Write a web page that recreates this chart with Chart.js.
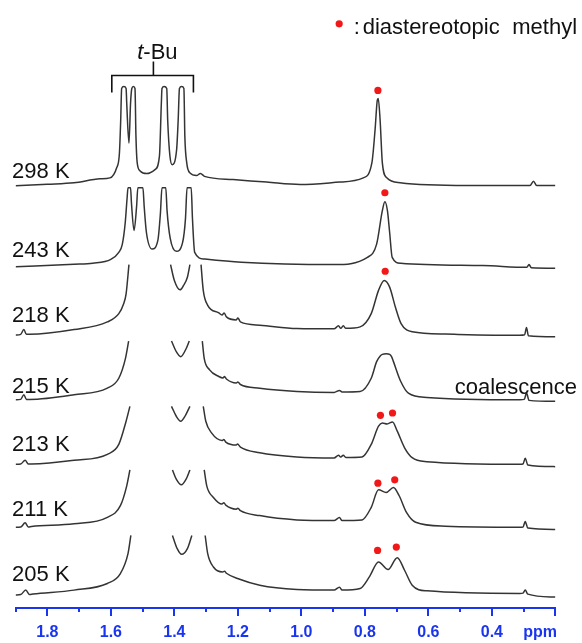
<!DOCTYPE html>
<html>
<head>
<meta charset="utf-8">
<script src="https://cdn.jsdelivr.net/npm/chart.js@4.4.1/dist/chart.umd.min.js"></script>
<style>
  html, body { margin: 0; padding: 0; background: #fff; }
  #nmr { display: block; }
</style>
</head>
<body>
<canvas id="nmr" width="582" height="643"></canvas>
<script>
// VT 1H NMR, top to bottom
const temps = ['298 K', '243 K', '218 K', '215 K', '213 K', '211 K', '205 K'];
// baseline offset of each spectrum in the stack
const offsets = [425, 342, 273, 208, 142, 79, 11];

// shift (ppm) / intensity above own baseline; null = off scale (clipped)
const ppm298 = [1.900, 1.800, 1.716, 1.634, 1.603, 1.582, 1.573, 1.569, 1.566, 1.559, 1.552, 1.550, 1.543, 1.538, 1.534, 1.529, 1.524, 1.521, 1.517, 1.508, 1.487, 1.461, 1.447, 1.441, 1.439, 1.432, 1.424, 1.421, 1.414, 1.407, 1.393, 1.388, 1.384, 1.377, 1.370, 1.367, 1.361, 1.351, 1.330, 1.318, 1.305, 1.215, 1.109, 1.004, 0.878, 0.805, 0.778, 0.768, 0.761, 0.758, 0.752, 0.745, 0.731, 0.689, 0.479, 0.280, 0.269, 0.259, 0.200];
const int298 = [0, 1.5, 3, 7, 8, 18, 33, 66, 98, 100, 98, 83, 43, 83, 98, 100, 98, 50, 23, 15, 12.3, 16.3, 30, 83, 98, 100, 98, 66, 30, 21.3, 36, 66, 98, 100, 98, 50, 23, 13, 10.3, 12.5, 9.5, 6.3, 3.7, 1.3, 3.7, 8, 23, 56, 86, 88, 66, 23, 8, 3, 0.3, 0.3, 4.7, 0.3, 0.3];

const ppm243 = [1.900, 1.716, 1.657, 1.600, 1.575, 1.564, 1.555, 1.549, 1.546, 1.538, 1.535, 1.527, 1.519, 1.515, 1.499, 1.495, 1.488, 1.470, 1.452, 1.444, 1.439, 1.427, 1.423, 1.413, 1.394, 1.374, 1.365, 1.360, 1.347, 1.343, 1.336, 1.306, 1.189, 0.897, 0.792, 0.763, 0.745, 0.737, 0.729, 0.722, 0.714, 0.687, 0.429, 0.290, 0.283, 0.276, 0.200];
const int243 = [1.5, 4, 5, 9, 16, 24, 45, 70, 81, 81, 65, 38, 62, 81, 81, 62, 36, 19.3, 28, 55, 81, 81, 58, 30, 17, 26, 50, 81, 81, 50, 16, 9.3, 6, 3.7, 11, 24.3, 58, 67, 58, 36, 11, 5, 2.7, 1, 3.7, 0.5, 0];

const ppm218 = [1.900, 1.884, 1.874, 1.866, 1.856, 1.716, 1.611, 1.575, 1.560, 1.552, 1.543, 1.480, 1.412, 1.400, 1.382, 1.371, 1.359, 1.351, 1.335, 1.316, 1.309, 1.295, 1.260, 1.250, 1.243, 1.236, 1.205, 1.200, 1.192, 1.131, 1.014, 0.897, 0.883, 0.876, 0.868, 0.860, 0.815, 0.780, 0.757, 0.739, 0.722, 0.704, 0.686, 0.651, 0.546, 0.312, 0.297, 0.291, 0.285, 0.200];
const int218 = [1.7, 2.5, 7.3, 2.5, 2.5, 7.3, 15, 23.3, 33, 43.3, 72.7, null, 72.7, 56.7, 47.3, 51.7, 60, 72.7, null, 72.7, 46.7, 31.7, 24, 22, 24, 20, 17, 19, 15, 11.7, 8.3, 8, 11, 8.5, 11, 8.5, 10, 23.3, 46.7, 56.7, 50, 30, 13.3, 5, 2.7, 1.5, 2, 9.3, 1, 0];

const ppm215 = [1.900, 1.884, 1.874, 1.866, 1.856, 1.716, 1.611, 1.575, 1.554, 1.544, 1.480, 1.409, 1.394, 1.380, 1.365, 1.353, 1.330, 1.312, 1.306, 1.289, 1.260, 1.247, 1.242, 1.236, 1.205, 1.200, 1.192, 1.131, 1.014, 0.897, 0.880, 0.872, 0.815, 0.780, 0.763, 0.751, 0.745, 0.733, 0.722, 0.716, 0.710, 0.687, 0.663, 0.605, 0.312, 0.298, 0.291, 0.283, 0.200];
const int215 = [1.7, 2, 6.7, 2, 2, 6.7, 13.3, 23.3, 43.3, 60.7, null, 60.7, 50, 45, 51.7, 60.7, null, 60.7, 43.3, 31.7, 25, 23.5, 25, 22.5, 18.5, 19.5, 17, 13.3, 10, 9, 11, 9.5, 10, 23.3, 40, 46, 47.3, 48, 47.3, 45, 40, 20, 8.3, 4, 1.7, 2, 8.3, 1, 0];

const ppm213 = [1.900, 1.884, 1.870, 1.860, 1.850, 1.716, 1.611, 1.575, 1.552, 1.540, 1.480, 1.409, 1.394, 1.380, 1.365, 1.351, 1.330, 1.309, 1.301, 1.283, 1.250, 1.244, 1.238, 1.205, 1.201, 1.192, 1.131, 1.014, 0.897, 0.883, 0.876, 0.868, 0.860, 0.809, 0.780, 0.757, 0.745, 0.730, 0.713, 0.698, 0.675, 0.651, 0.605, 0.312, 0.302, 0.295, 0.287, 0.200];
const int213 = [2.7, 3, 6.7, 3, 3, 6.7, 12.7, 22.7, 46, 61, null, 61, 51, 46, 52, 61, null, 61, 46, 34.3, 26.7, 27.5, 25, 22, 23, 20, 14.3, 10, 9, 11.7, 10, 11.7, 9.5, 10, 22.7, 41, 44.3, 43.3, 45.3, 36, 19.3, 9.3, 5.3, 2.7, 3, 8.7, 2, 0.3];

const ppm211 = [1.900, 1.884, 1.870, 1.860, 1.850, 1.716, 1.611, 1.570, 1.550, 1.540, 1.480, 1.406, 1.394, 1.378, 1.363, 1.351, 1.330, 1.306, 1.298, 1.277, 1.250, 1.244, 1.238, 1.205, 1.200, 1.192, 1.131, 1.014, 0.897, 0.880, 0.872, 0.809, 0.780, 0.757, 0.733, 0.710, 0.692, 0.669, 0.640, 0.546, 0.312, 0.302, 0.295, 0.287, 0.200];
const int211 = [2.3, 2.5, 6.7, 2.5, 3, 5.7, 12.3, 24, 44, 60, null, 60, 50.7, 45, 50.7, 60, null, 60, 44, 32.3, 25.7, 27, 24.5, 20.5, 21.5, 19, 14, 9.7, 9, 12, 9, 9.7, 22.3, 40, 37.3, 42.3, 34, 17.3, 7.3, 3.3, 2.3, 2.5, 8, 1.5, 0];

const ppm205 = [1.900, 1.884, 1.868, 1.856, 1.845, 1.716, 1.611, 1.570, 1.546, 1.537, 1.480, 1.406, 1.391, 1.377, 1.359, 1.345, 1.325, 1.303, 1.295, 1.277, 1.248, 1.242, 1.236, 1.201, 1.131, 1.014, 0.897, 0.880, 0.872, 0.815, 0.786, 0.757, 0.727, 0.698, 0.675, 0.651, 0.605, 0.312, 0.302, 0.295, 0.287, 0.200];
const int205 = [2, 2.5, 7, 2.5, 3, 7, 13.7, 23.7, 43.7, 62, null, 62, 48.7, 43, 48.7, 62, null, 62, 43.7, 30.3, 25.3, 26, 24, 18.7, 12, 7.7, 7, 10, 7, 8.7, 20.3, 35.3, 27.7, 39.7, 27, 12, 6.3, 3.7, 4, 7, 3, 0];

// diastereotopic methyl markers: spectrum index, shift, height above baseline
const dotTrace = [0, 1, 2, 4, 4, 5, 5, 6, 6];
const dotPpm = [0.759, 0.737, 0.736, 0.751, 0.713, 0.759, 0.706, 0.760, 0.701];
const dotInt = [96, 76, 66, 52, 54.3, 46.7, 50, 47, 50.3];

// x axis ticks
const tickValues = [1.9, 1.8, 1.7, 1.6, 1.5, 1.4, 1.3, 1.2, 1.1, 1.0, 0.9, 0.8, 0.7, 0.6, 0.5, 0.4, 0.3, 0.248, 0.2];
const tickLabels = ['', '1.8', '', '1.6', '', '1.4', '', '1.2', '', '1.0', '', '0.8', '', '0.6', '', '0.4', '', 'ppm', ''];

// t-Bu bracket
const bracketPpm = [1.597, 1.597, 1.340, 1.340, 1.400, 1.466, 1.466];
const bracketY = [519, 536, 536, 519, null, 536, 550];

// legend: colon, first word, second word (ppm of left edge)
const legendWords = [':', 'diastereotopic', 'methyl'];
const legendPpm = [0.835, 0.807, 0.336];

const axisBlue = '#1a35f0';
const family = '"Liberation Sans", Arial, Helvetica, sans-serif';
const labelPpm = 1.911;
const labelY = [433, 353, 288, 216, 158, 93, 27];

const spectra = [[ppm298, int298], [ppm243, int243], [ppm218, int218], [ppm215, int215],
                 [ppm213, int213], [ppm211, int211], [ppm205, int205]];

const datasets = spectra.map(([p, v], i) => ({
    data: p.map((x, j) => ({ x: x, y: v[j] === null ? null : v[j] + offsets[i] })),
    borderColor: '#343434',
    borderWidth: 1.5,
    pointRadius: 0,
    cubicInterpolationMode: 'monotone',
    spanGaps: false
}));

datasets.push({
    type: 'scatter',
    data: dotPpm.map((x, k) => ({ x: x, y: dotInt[k] + offsets[dotTrace[k]] })),
    pointRadius: 3.6,
    pointBackgroundColor: '#f21818',
    pointBorderWidth: 0
});

datasets.push({
    data: bracketPpm.map((x, k) => ({ x: x, y: bracketY[k] })),
    borderColor: '#111',
    borderWidth: 1.6,
    borderJoinStyle: 'miter',
    pointRadius: 0,
    tension: 0,
    spanGaps: false
});

// tick marks, temperature labels and captions
const annotate = {
    id: 'annotate',
    afterDraw(chart) {
        const { ctx, scales: { x, y } } = chart;
        ctx.save();
        ctx.strokeStyle = axisBlue;
        ctx.lineWidth = 2;
        tickValues.forEach((v, i) => {
            if (tickLabels[i] === 'ppm') return;
            const px = Math.round(x.getPixelForValue(v));
            const major = Math.round(v * 10) % 2 === 0;
            ctx.beginPath();
            ctx.moveTo(px, y.bottom);
            ctx.lineTo(px, y.bottom + (major ? 8 : 4));
            ctx.stroke();
        });

        ctx.fillStyle = '#111';
        ctx.textBaseline = 'alphabetic';
        ctx.font = '22px ' + family;
        temps.forEach((t, i) => {
            ctx.fillText(t, x.getPixelForValue(labelPpm), y.getPixelForValue(labelY[i]));
        });

        ctx.textAlign = 'right';
        ctx.fillText('coalescence', x.getPixelForValue(0.132), y.getPixelForValue(215));
        ctx.textAlign = 'left';

        // t-Bu
        let tx = x.getPixelForValue(1.517);
        const ty = y.getPixelForValue(553);
        ctx.font = 'italic 22px ' + family;
        ctx.fillText('t', tx, ty);
        tx += ctx.measureText('t').width;
        ctx.font = '22px ' + family;
        ctx.fillText('-Bu', tx, ty);

        // legend
        ctx.fillStyle = '#f21818';
        ctx.beginPath();
        ctx.arc(x.getPixelForValue(0.881), y.getPixelForValue(588), 3.6, 0, Math.PI * 2);
        ctx.fill();
        ctx.fillStyle = '#111';
        legendWords.forEach((w, i) => {
            ctx.fillText(w, x.getPixelForValue(legendPpm[i]), y.getPixelForValue(578));
        });
        ctx.restore();
    }
};

new Chart(document.getElementById('nmr'), {
    type: 'line',
    data: { datasets: datasets },
    options: {
        responsive: false,
        animation: false,
        events: [],
        devicePixelRatio: 1,
        layout: { padding: { left: 15.6, right: 26.6, top: 0, bottom: 0 } },
        plugins: { legend: { display: false }, tooltip: { enabled: false } },
        scales: {
            x: {
                type: 'linear',
                reverse: true,
                min: 0.2,
                max: 1.9,
                afterBuildTicks: s => { s.ticks = tickValues.map(v => ({ value: v })); },
                afterFit: s => { s.height = 35; },
                grid: { display: false, drawTicks: false },
                border: { display: true, color: axisBlue, width: 2 },
                ticks: {
                    autoSkip: false,
                    maxRotation: 0,
                    padding: 15,
                    color: axisBlue,
                    font: { family: family, size: 16, weight: 'bold' },
                    callback: (v, i) => tickLabels[i]
                }
            },
            y: { display: false, min: 0, max: 608 }
        }
    },
    plugins: [annotate]
});
</script>
</body>
</html>
